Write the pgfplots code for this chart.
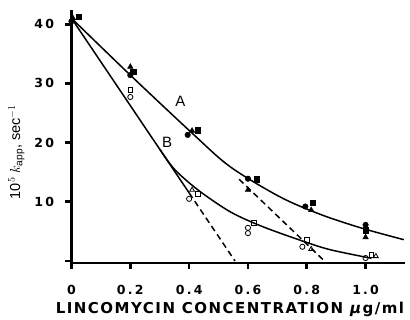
\documentclass[border=0pt]{standalone}
\usepackage{pgfplots}
\pgfplotsset{compat=1.18}
\usepackage{fontspec}
\setmainfont{Liberation Sans}
\newfontfamily\lab[LetterSpace=10]{DejaVu Sans}
\newfontfamily\tk[LetterSpace=18]{DejaVu Sans}
\newcommand\T[1]{{\fontsize{12.5}{12.5}\selectfont\tk\bfseries\rule{0pt}{22pt}#1}}
\newcommand\Y[1]{{\fontsize{12.5}{12.5}\selectfont\tk\bfseries #1\hspace*{8pt}}}
\begin{document}
\begin{tikzpicture}
\begin{axis}[
  scale only axis, width=333.5pt, height=253pt,
  xmin=0, xmax=1.134, ymin=-0.34, ymax=42.4,
  axis x line=bottom, axis y line=left,
  axis line style={line width=2.6pt,-},
  every tick/.style={line width=2.6pt,black},
  tick align=outside, major tick length=6pt,
  xtick={0,0.2,0.4,0.6,0.8,1.0},
  xticklabels={\T{0},\T{0.2},\T{0.4},\T{0.6},\T{0.8},\T{1.0}},
  ytick={0,10,20,30,40},
  yticklabels={,\Y{10},\Y{20},\Y{30},\Y{40}},
  xlabel={\fontsize{15}{15}\selectfont\lab\bfseries LINCOMYCIN CONCENTRATION \textit{μ}g/ml},
  ylabel={\fontsize{14.5}{14.5}\selectfont 10$^5$ $k_{\mathrm{app}}$, sec$^{-1}$},
  xlabel style={at={(axis description cs:0.475,-0.182)}, anchor=center},
  ylabel style={at={(axis description cs:-0.165,0.439)}, anchor=center},
  clip=false,
]
% curve A
\addplot[black, line width=1.5pt, smooth, tension=0.5] coordinates {
 (0,41) (0.2,31.4) (0.41,21.6) (0.54,15.9) (0.71,10.8) (0.85,7.8) (0.99,5.5) (1.13,3.6)};
% dashed A
\addplot[black, line width=1.5pt, dash pattern=on 6pt off 4pt] coordinates {(0.57,13.8) (0.86,0)};
% straight B
\addplot[black, line width=1.5pt] coordinates {(0,41) (0.40,11.5)};
\addplot[black, line width=1.5pt, dash pattern=on 6pt off 4pt] coordinates {(0.40,11.5) (0.556,0)};
% curve B
\addplot[black, line width=1.5pt, smooth, tension=0.5] coordinates {
 (0.3,18.9) (0.35,15.5) (0.43,12) (0.54,8.3) (0.65,5.8) (0.79,3.3) (0.88,1.9) (1.02,0.45)};
% A points
\addplot[only marks, mark=*, mark size=2.8pt, black] coordinates {
 (0,40.5) (0.2,31.4) (0.395,21.3) (0.6,13.9) (0.795,9.2) (1.0,6.1)};
\addplot[only marks, mark=triangle*, mark size=3.2pt, black] coordinates {
 (0.005,41.0) (0.2,32.8) (0.41,22.0) (0.6,12.0) (0.815,8.6) (1.0,4.0)};
\addplot[only marks, mark=square*, mark size=2.6pt, black] coordinates {
 (0.025,41.2) (0.21,32.0) (0.43,22.1) (0.63,13.8) (0.82,9.9) (1.0,5.2)};
% B points
\addplot[only marks, mark=o, mark size=2.6pt, black, thick] coordinates {
 (0.2,27.7) (0.4,10.5) (0.6,5.6) (0.6,4.7) (0.785,2.4) (1.0,0.5)};
\addplot[only marks, mark=square, mark size=2.4pt, black, thick] coordinates {
 (0.2,28.9) (0.43,11.3) (0.62,6.5) (0.8,3.5) (1.02,1.0)};
\addplot[only marks, mark=triangle, mark size=2.8pt, black, thick] coordinates {
 (0.41,12.0) (0.815,2.0) (1.035,0.8)};
\node[font=\fontsize{15}{15}\selectfont] at (axis cs:0.37,26.9) {A};
\node[font=\fontsize{15}{15}\selectfont] at (axis cs:0.325,20) {B};
\end{axis}
\draw[line width=2.6pt] (0,0) -- (0,-5pt);
\path[use as bounding box] (-71.5pt,-57pt) rectangle (338.5pt,263pt);
\end{tikzpicture}
\end{document}
